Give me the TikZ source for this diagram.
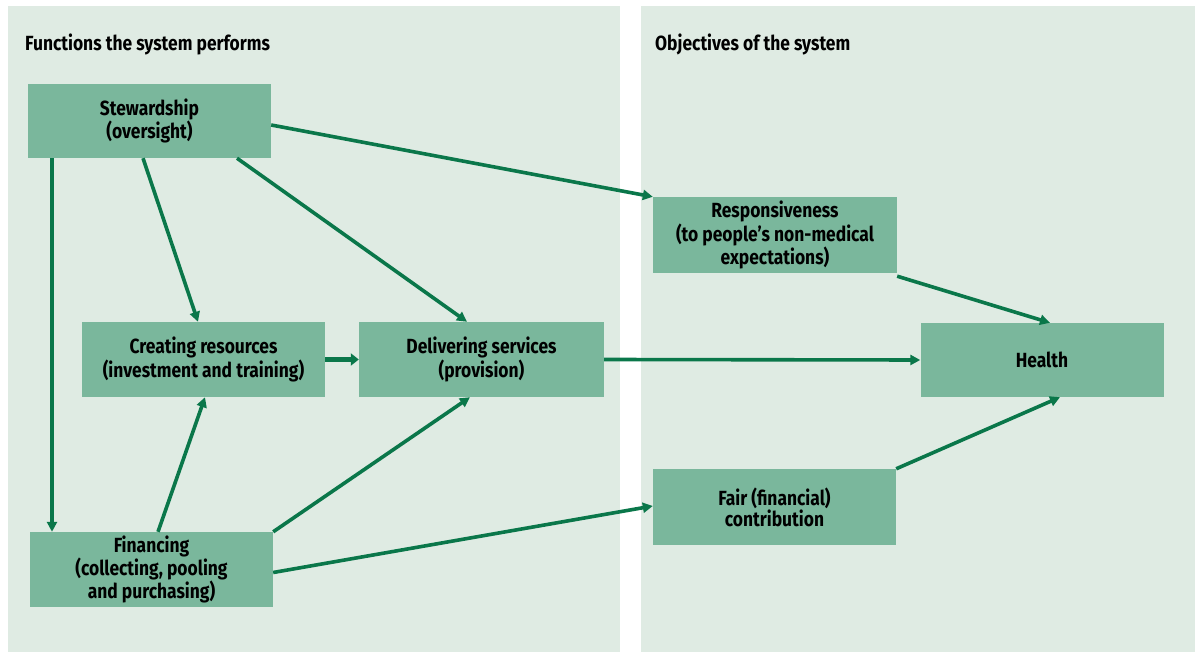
\documentclass[tikz,border=0pt]{standalone}
\usepackage{fontspec}
\setmainfont{Fira Sans}[FakeStretch=0.85]
\usetikzlibrary{arrows.meta}
\definecolor{panelbg}{HTML}{DFEBE3}
\definecolor{boxfill}{HTML}{7AB79C}
\definecolor{arrowc}{HTML}{0A774A}
\tikzset{
  box/.style={fill=boxfill, draw=none, align=center, inner sep=0pt, font=\fontsize{20.5}{21}\selectfont\bfseries},
  conn/.style={draw=arrowc, line width=3.6pt, -{Triangle[length=10pt,width=10pt]}},
  title/.style={anchor=west, font=\fontsize{20.5}{21}\selectfont\bfseries, inner sep=0pt},
}
\begin{document}
\begin{tikzpicture}[x=1pt,y=-1pt]
\useasboundingbox (0,0) rectangle (1195,652);
\fill[white] (0,0) rectangle (1195,652);
\fill[panelbg] (8,6) rectangle (620,652);
\fill[panelbg] (641,6) rectangle (1195,652);
\node[title] (t1) at (25,44) {Functions the system performs};
\node[title] (t2) at (655,44) {Objectives of the system};

\node[box, minimum width=243pt, minimum height=74pt] (stew) at (149.5,121) {Stewardship\\(oversight)};
\node[box, minimum width=243pt, minimum height=75pt] (creat) at (203.5,359.5) {Creating resources\\(investment and training)};
\node[box, minimum width=245pt, minimum height=75pt] (deliv) at (481.5,359.5) {Delivering services\\(provision)};
\node[box, minimum width=243pt, minimum height=75pt] (fin) at (151.5,569.5) {Financing\\(collecting, pooling\\and purchasing)};
\node[box, minimum width=244pt, minimum height=76pt] (resp) at (775,235) {Responsiveness\\(to people's non-medical\\expectations)};
\node[box, minimum width=243pt, minimum height=74pt] (health) at (1042,360) {Health};
\node[box, minimum width=243pt, minimum height=76pt] (fair) at (774.5,507) {Fair (financial)\\contribution};

\draw[conn] ([xshift=-97.5pt]stew.south) -- ([xshift=-99.5pt]fin.north);
\draw[conn] ([xshift=-6.5pt]stew.south) -- ([xshift=-5.5pt]creat.north);
\draw[conn] ([xshift=87.5pt]stew.south) -- ([xshift=-14.5pt]deliv.north);
\draw[conn] ([yshift=-4pt]stew.east) -- (resp.north west);
\draw[draw=arrowc, line width=5.5pt, -{Triangle[length=8pt,width=12pt]}] (creat.east) -- (deliv.west);
\draw[conn] (deliv.east) -- (health.west);
\draw[conn] ([xshift=6.5pt]fin.north) -- ([xshift=1.5pt]creat.south);
\draw[conn] (fin.north east) -- ([xshift=-11.5pt]deliv.south);
\draw[conn] ([yshift=-3pt]fin.east) -- ([yshift=1pt]fair.west);
\draw[conn] ([yshift=-3pt]resp.south east) -- ([xshift=8pt]health.north);
\draw[conn] (fair.north east) -- ([xshift=18pt]health.south);
\end{tikzpicture}
\end{document}
